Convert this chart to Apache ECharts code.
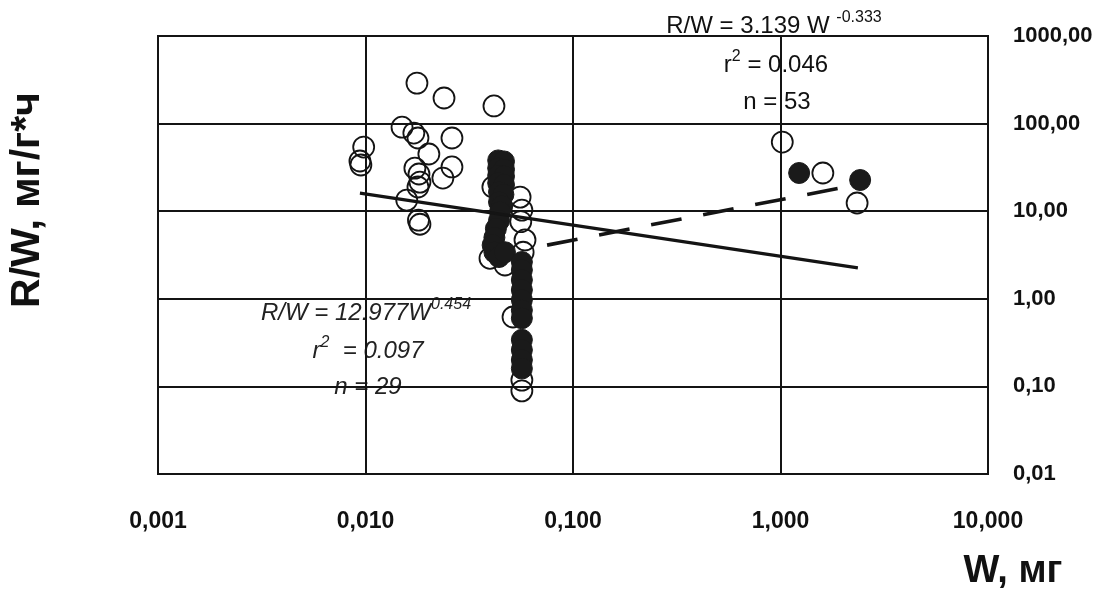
<!DOCTYPE html>
<html>
<head>
<meta charset="utf-8">
<script src="https://cdn.jsdelivr.net/npm/echarts@6/dist/echarts.min.js"></script>
<style>
html,body{margin:0;padding:0;background:#fff;}
#chart{width:1111px;height:603px;}
</style>
</head>
<body>
<div id="chart"></div>
<script>
// ---- data ----
const xTickLabels = ['0,001', '0,010', '0,100', '1,000', '10,000'];
const yTickLabels = ['0,01', '0,10', '1,00', '10,00', '100,00', '1000,00'];

// open circles [W, R/W]
const openPoints = [
  [0.0177, 290], [0.0239, 196], [0.0416, 159], [0.0150, 91], [0.0171, 78],
  [0.0179, 68.5], [0.0261, 68.5], [0.0098, 54], [0.0094, 37.4], [0.0095, 33.7],
  [0.0202, 45], [0.0173, 31], [0.0181, 26.6], [0.0261, 32], [0.0236, 23.9],
  [0.0183, 21.5], [0.0179, 18.9], [0.0158, 13.4], [0.0180, 7.9], [0.0183, 7.1],
  [0.0411, 18.9], [0.0556, 14.5], [0.0567, 10.3], [0.0560, 7.6], [0.0587, 4.7],
  [0.0575, 3.4], [0.0470, 2.43], [0.0398, 2.9], [0.0514, 0.62], [0.0567, 0.118],
  [0.0567, 0.089],
  [1.02, 61.6], [1.60, 27.3], [2.34, 12.4]
];

// filled circles [W, R/W]
const filledPoints = [
  [0.0436, 38], [0.0465, 37], [0.0436, 31], [0.0465, 30], [0.0436, 25.5], [0.0465, 25],
  [0.0436, 21], [0.0465, 20], [0.0440, 16.6], [0.0462, 15.5], [0.0440, 12.7], [0.0455, 11.5],
  [0.0445, 9.8], [0.0440, 7.8], [0.0425, 6.3], [0.0418, 5.0], [0.0410, 4.1],
  [0.0418, 3.4], [0.0440, 3.0], [0.0470, 3.4],
  [0.0567, 2.63], [0.0567, 2.13], [0.0567, 1.64], [0.0567, 1.26], [0.0567, 0.97],
  [0.0567, 0.74], [0.0567, 0.60], [0.0567, 0.34], [0.0567, 0.26], [0.0567, 0.20],
  [0.0567, 0.16],
  [1.23, 27.3], [2.42, 22.7]
];

// fitted lines, endpoints
const solidFit = [[0.0094, 16.1], [2.36, 2.25]];
const dashedFit = [[0.075, 4.1], [1.94, 18.4]];

const xName = 'W, мг';
const yName = 'R/W, мг/г*ч';

// ---- chart ----
const ink = '#141414';
const font = '"Liberation Sans", Arial, sans-serif';
const chart = echarts.init(document.getElementById('chart'), null, {renderer: 'canvas'});

const supRich = (size, italic, color) => ({
  m: {fontSize: size, fontStyle: italic ? 'italic' : 'normal', fontFamily: font, fill: color, color: color, lineHeight: 29, verticalAlign: 'bottom'},
  s: {fontSize: size - 8, fontStyle: italic ? 'italic' : 'normal', fontFamily: font, fill: color, color: color, lineHeight: 16, verticalAlign: 'top'}
});

chart.setOption({
  backgroundColor: '#ffffff',
  animation: false,
  grid: {
    left: 158, right: 123, top: 36, bottom: 129,
    show: true, borderColor: ink, borderWidth: 2, backgroundColor: 'transparent'
  },
  xAxis: {
    type: 'log', logBase: 10, min: 0.001, max: 10,
    axisLine: {show: true, lineStyle: {color: ink, width: 2}},
    axisTick: {show: false},
    minorTick: {show: false},
    splitLine: {show: true, lineStyle: {color: ink, width: 2}},
    axisLabel: {
      show: true, margin: 36, color: '#111', fontSize: 23, fontWeight: 'bold', fontFamily: font,
      showMinLabel: true, showMaxLabel: true,
      formatter: v => xTickLabels[Math.round(Math.log10(v)) + 3]
    }
  },
  yAxis: {
    type: 'log', logBase: 10, min: 0.01, max: 1000, position: 'right',
    axisLine: {show: true, lineStyle: {color: ink, width: 2}},
    axisTick: {show: false},
    splitLine: {show: true, lineStyle: {color: ink, width: 2}},
    axisLabel: {
      show: true, margin: 25, color: '#111', fontSize: 22, fontWeight: 'bold', fontFamily: font,
      showMinLabel: true, showMaxLabel: true, padding: [8, 0, 0, 0],
      formatter: v => yTickLabels[Math.round(Math.log10(v)) + 2]
    }
  },
  series: [
    {
      type: 'scatter', data: openPoints, symbol: 'circle', symbolSize: 21,
      itemStyle: {color: 'rgba(255,255,255,0)', borderColor: ink, borderWidth: 1.8, opacity: 1},
      z: 3
    },
    {
      type: 'scatter', data: filledPoints, symbol: 'circle', symbolSize: 21,
      itemStyle: {color: '#1a1a1a', borderColor: '#1a1a1a', borderWidth: 1, opacity: 1},
      z: 4
    },
    {
      type: 'line', data: solidFit, symbol: 'none', silent: true,
      lineStyle: {color: ink, width: 3.2, type: 'solid'}, z: 5
    },
    {
      type: 'line', data: dashedFit, symbol: 'none', silent: true,
      lineStyle: {color: ink, width: 3.6, type: [31, 22]}, z: 5
    }
  ],
  graphic: [
    {
      type: 'text', x: 28, y: 200, rotation: Math.PI / 2,
      style: {text: yName, font: 'bold 41px ' + font, fill: '#111', textAlign: 'center', textVerticalAlign: 'middle'}
    },
    {
      type: 'text', x: 1013, y: 572,
      style: {text: xName, font: 'bold 38px ' + font, fill: '#111', textAlign: 'center', textVerticalAlign: 'middle'}
    },
    // upper-right annotation
    {
      type: 'text', x: 774, y: 24,
      style: {text: '{m|R/W = 3.139 W }{s|-0.333}', rich: supRich(24, false, '#111'), textAlign: 'center', textVerticalAlign: 'middle'}
    },
    {
      type: 'text', x: 776, y: 63,
      style: {text: '{m|r}{s|2}{m| = 0.046}', rich: supRich(24, false, '#111'), textAlign: 'center', textVerticalAlign: 'middle'}
    },
    {
      type: 'text', x: 777, y: 102,
      style: {text: 'n = 53', font: '24px ' + font, fill: '#111', textAlign: 'center', textVerticalAlign: 'middle'}
    },
    // lower-left annotation (italic)
    {
      type: 'text', x: 366, y: 311,
      style: {text: '{m|R/W = 12.977W}{s|0.454}', rich: supRich(24, true, '#222'), textAlign: 'center', textVerticalAlign: 'middle'}
    },
    {
      type: 'text', x: 368, y: 349,
      style: {text: '{m|r}{s|2}{m|  = 0.097}', rich: supRich(24, true, '#222'), textAlign: 'center', textVerticalAlign: 'middle'}
    },
    {
      type: 'text', x: 368, y: 387,
      style: {text: 'n = 29', font: 'italic 24px ' + font, fill: '#222', textAlign: 'center', textVerticalAlign: 'middle'}
    }
  ]
});
</script>
</body>
</html>
